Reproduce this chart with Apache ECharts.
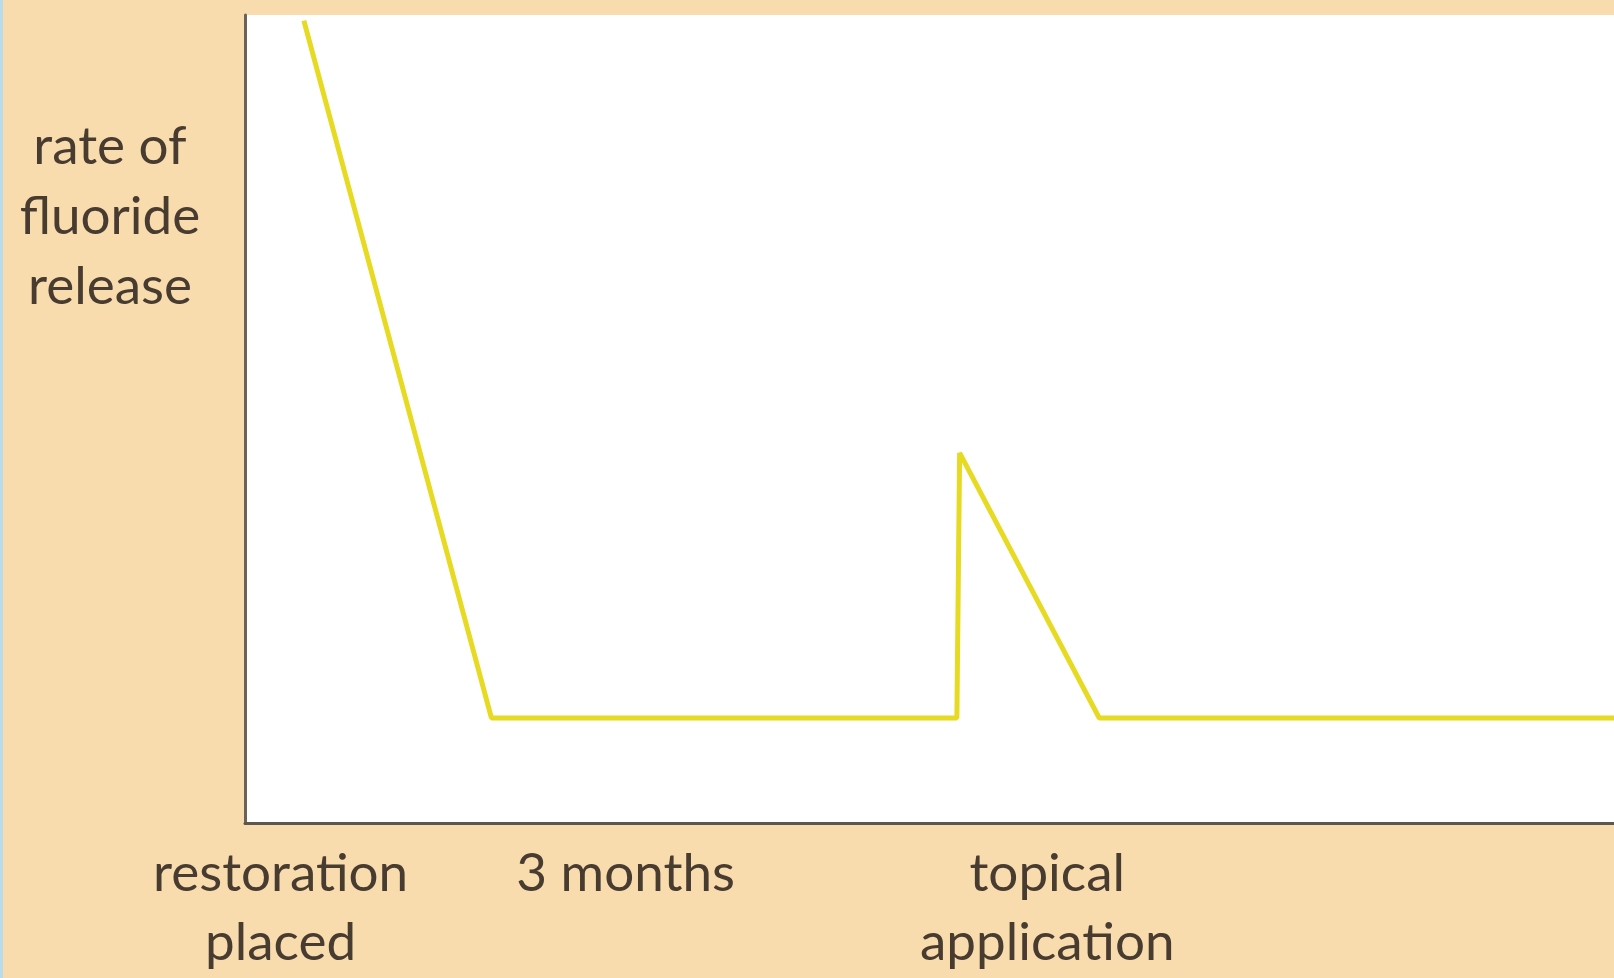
<!DOCTYPE html>
<html>
<head>
<meta charset="utf-8">
<script src="https://cdn.jsdelivr.net/npm/echarts@6/dist/echarts.min.js"></script>
<style>
  html, body { margin: 0; padding: 0; background: #f8dcae; }
  #myChart { width: 1614px; height: 978px; }
</style>
</head>
<body>
<div id="myChart"></div>
<script>
// time since placement (arbitrary units) and release rate (arbitrary units)
var timePoints = [4.3, 18.0, 52.0, 52.2, 62.4, 100];
var releaseRate = [99.3, 13, 13, 45.8, 13, 13];
// x axis labels and where they sit
var labelPositions = [2.6, 27.8, 58.6];
var labelTexts = ['restoration\nplaced', '3 months', 'topical\napplication'];
var yTitle = 'rate of\nfluoride\nrelease';

var lineData = timePoints.map(function (t, i) { return [t, releaseRate[i]]; });
var labelMap = {};
labelPositions.forEach(function (p, i) { labelMap[p] = labelTexts[i]; });

var myChart = echarts.init(document.getElementById('myChart'));
var textColor = '#483b30';
var option = {
    backgroundColor: '#f8dcae',
    animation: false,
    textStyle: { fontFamily: 'Lato' },
    grid: {
        left: 245, right: 0, top: 15, bottom: 155,
        show: true,
        backgroundColor: '#ffffff',
        borderWidth: 0
    },
    graphic: [
        {   // thin blue edge on the left of the scan
            type: 'rect', left: 0, top: 0,
            shape: { width: 3, height: 978 },
            style: { fill: '#b9dcec' }
        },
        {
            type: 'text', x: 110, y: 112,
            style: {
                text: yTitle,
                fill: textColor,
                font: '53px Lato',
                lineHeight: 70,
                align: 'center',
                verticalAlign: 'top'
            }
        }
    ],
    xAxis: {
        type: 'value',
        min: 0, max: 100,
        axisLine: { show: true, onZero: false, lineStyle: { color: '#5e574e', width: 3 } },
        axisTick: { show: false },
        splitLine: { show: false },
        axisLabel: {
            customValues: labelPositions,
            formatter: function (v) { return labelMap[v] || ''; },
            color: textColor,
            fontSize: 53,
            lineHeight: 69,
            margin: 16,
            align: 'center'
        }
    },
    yAxis: {
        type: 'value',
        min: 0, max: 100,
        axisLine: { show: true, lineStyle: { color: '#6b6359', width: 3 } },
        axisTick: { show: false },
        splitLine: { show: false },
        axisLabel: { show: false }
    },
    series: [{
        type: 'line',
        data: lineData,
        symbol: 'none',
        lineStyle: { color: '#e6da22', width: 5 },
        z: 1
    }]
};
myChart.setOption(option);
window.addEventListener('resize', function () { myChart.resize(); });
</script>
</body>
</html>
